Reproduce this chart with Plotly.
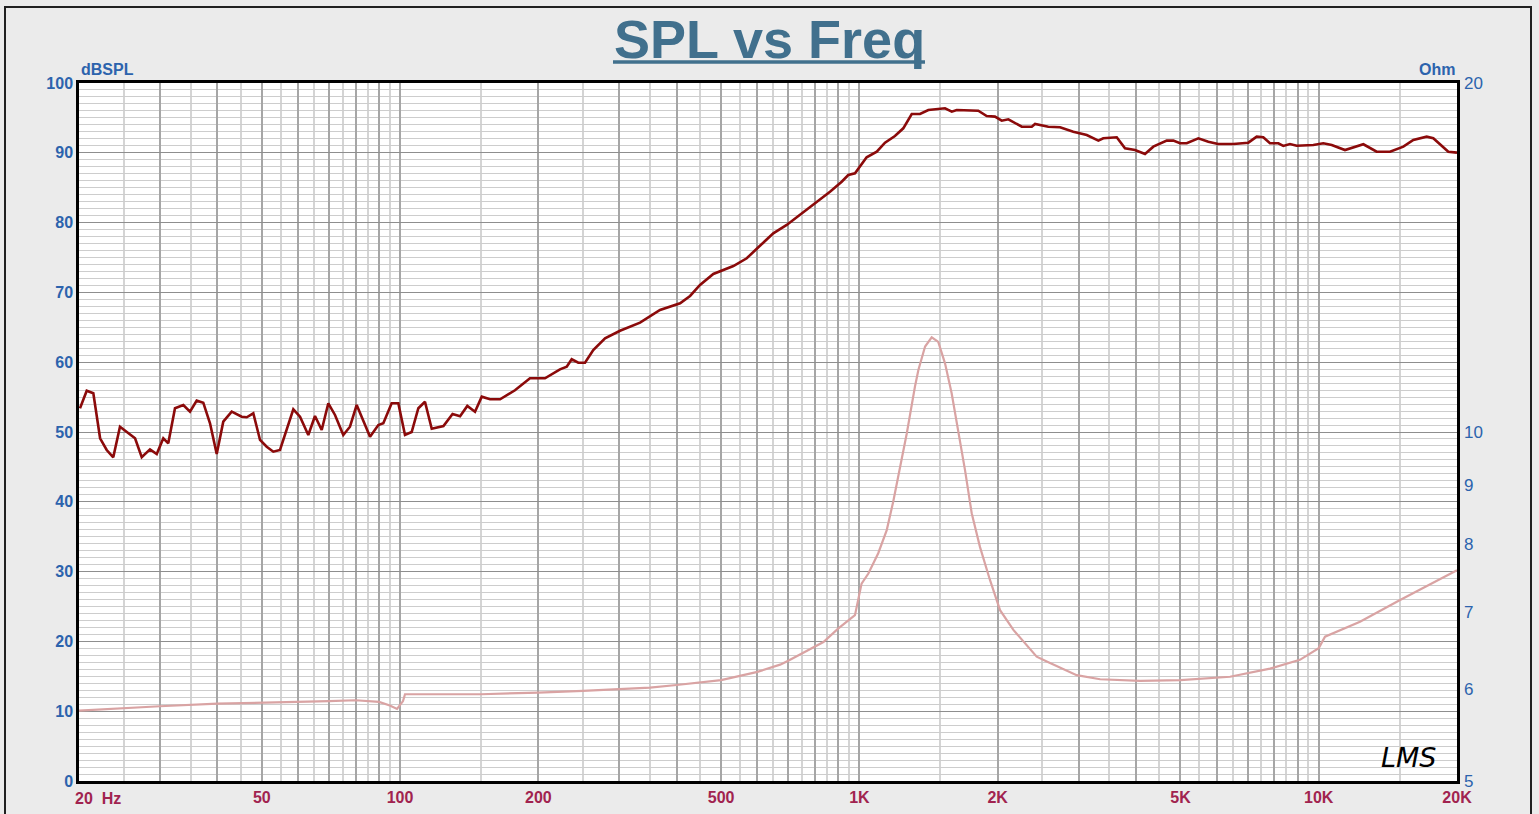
import plotly.graph_objects as go

# ---------------- data ----------------
spl_freq = [20.1, 20.79, 21.49, 22.23, 22.98, 23.75, 24.56, 25.41, 26.49, 27.39, 28.55, 29.53,
            30.52, 31.29, 32.36, 33.74, 34.89, 36.08, 37.29, 38.57, 39.89, 41.22, 43.0, 45.21,
            46.37, 47.92, 49.56, 51.25, 52.97, 54.78, 58.56, 60.56, 63.13, 65.29, 67.52, 69.79,
            72.17, 75.23, 77.8, 80.46, 83.18, 86.02, 89.68, 91.95, 95.88, 99.13, 102.5, 106.0,
            109.6, 113.3, 117.2, 124.3, 130.1, 135.1, 140.1, 145.6, 150.6, 157.0, 165.1, 177.9,
            191.8, 206.8, 222.9, 230.6, 236.4, 244.4, 252.7, 263.4, 279.4, 301.2, 333.0, 368.1,
            407.0, 427.9, 449.8, 480.8, 531.6, 568.5, 602.6, 649.4, 694.6, 742.4, 807.4, 863.0,
            915.1, 945.9, 978.2, 1003, 1037, 1091, 1137, 1195, 1246, 1300, 1355, 1413,
            1536, 1589, 1629, 1815, 1893, 1973, 2041, 2110, 2257, 2373, 2412, 2578,
            2734, 2922, 3126, 3313, 3396, 3633, 3787, 3981, 4186, 4364, 4668, 4825,
            4989, 5160, 5469, 5750, 6037, 6516, 7027, 7328, 7573, 7832, 8166, 8373,
            8659, 8955, 9732, 10232, 10673, 11407, 11995, 12508, 13372, 14296, 15283, 16067,
            17182, 17760, 19147, 20000]
spl_db = [53.40, 55.92, 55.55, 49.10, 47.42, 46.38, 50.76, 50.04, 49.10, 46.38, 47.52, 46.85,
          49.10, 48.38, 53.40, 53.87, 52.91, 54.49, 54.20, 51.25, 46.85, 51.48, 52.91, 52.19,
          52.11, 52.68, 48.86, 47.90, 47.18, 47.42, 53.25, 52.19, 49.57, 52.29, 50.29, 54.11,
          52.44, 49.57, 50.76, 53.87, 51.72, 49.33, 51.00, 51.25, 54.11, 54.11, 49.57, 50.00,
          53.40, 54.34, 50.46, 50.86, 52.58, 52.25, 53.73, 52.91, 55.06, 54.69, 54.69, 55.98,
          57.69, 57.69, 58.98, 59.36, 60.42, 59.93, 59.93, 61.75, 63.43, 64.51, 65.66, 67.48,
          68.44, 69.49, 71.06, 72.64, 73.78, 74.89, 76.46, 78.47, 79.66, 81.09, 83.00, 84.43,
          85.86, 86.82, 87.07, 88.11, 89.36, 90.16, 91.45, 92.41, 93.51, 95.56, 95.56, 96.13,
          96.38, 95.89, 96.13, 96.03, 95.27, 95.18, 94.60, 94.80, 93.74, 93.74, 94.13, 93.74,
          93.66, 93.03, 92.55, 91.74, 92.08, 92.22, 90.65, 90.40, 89.83, 90.88, 91.74, 91.74,
          91.36, 91.36, 92.08, 91.59, 91.26, 91.26, 91.45, 92.31, 92.22, 91.36, 91.36, 90.98,
          91.26, 91.02, 91.12, 91.36, 91.12, 90.40, 90.88, 91.22, 90.16, 90.16, 90.88, 91.84,
          92.31, 92.08, 90.16, 90.02]

imp_freq = [20, 25, 30, 40, 50, 60, 70, 80, 90, 95, 98.5, 101.5, 102.5, 150, 178, 200, 250,
            300, 350, 400, 500, 600, 672, 700, 800, 835, 900, 978, 1011, 1046, 1099, 1147,
            1185, 1226, 1268, 1321, 1344, 1390, 1437, 1485, 1536, 1588, 1642, 1698, 1756,
            1830, 1925, 2024, 2164, 2432, 2558, 2972, 3342, 4082, 5000, 6410, 7832, 9100,
            10000, 10320, 12300, 15000, 20000]
imp_ohm = [5.75, 5.78, 5.80, 5.83, 5.84, 5.85, 5.86, 5.87, 5.85, 5.81, 5.77, 5.86, 5.94, 5.94,
           5.95, 5.96, 5.98, 6.00, 6.02, 6.05, 6.11, 6.21, 6.30, 6.35, 6.53, 6.59, 6.77, 6.95,
           7.40, 7.55, 7.86, 8.23, 8.71, 9.33, 9.97, 10.94, 11.31, 11.85, 12.07, 11.96, 11.46,
           10.80, 10.04, 9.27, 8.51, 7.96, 7.45, 7.02, 6.75, 6.40, 6.34, 6.17, 6.12, 6.10,
           6.11, 6.15, 6.25, 6.36, 6.51, 6.66, 6.86, 7.16, 7.60]

x_major = [20, 30, 40, 50, 60, 70, 80, 90, 100, 200, 300, 400, 500, 600, 700, 800, 900,
           1000, 2000, 3000, 4000, 5000, 6000, 7000, 8000, 9000, 10000, 20000]
x_major_text = ["", "", "", "50", "", "", "", "", "100", "200", "", "", "500", "", "", "", "",
                "1K", "2K", "", "", "5K", "", "", "", "", "10K", "20K"]
x_minor = [25, 35, 45, 55, 65, 75, 85, 95, 150, 250, 350, 450, 550, 650, 750, 850, 950,
           1500, 2500, 3500, 4500, 5500, 6500, 7500, 8500, 9500, 15000]
ohm_ticks = [5, 6, 7, 8, 9, 10, 20]

# ---------------- figure ----------------
W, H = 1539, 814
L, R, T, B = 79, 82, 83, 33
pw, ph = W - L - R, H - T - B


def px(xp):
    return (xp - L) / pw


def py(yp):
    return (H - B - yp) / ph


BLUE = "#2c63ad"
CRIMSON = "#a1234f"
FONT = "Arial, Liberation Sans, sans-serif"

fig = go.Figure()
fig.add_trace(go.Scatter(x=imp_freq, y=imp_ohm, mode="lines", yaxis="y2",
                         line=dict(color="#d9a3a3", width=2.2), showlegend=False))
fig.add_trace(go.Scatter(x=spl_freq, y=spl_db, mode="lines",
                         line=dict(color="#8b0a0a", width=2.6), showlegend=False))

fig.update_layout(
    width=W, height=H,
    margin=dict(l=L, r=R, t=T, b=B, autoexpand=False),
    paper_bgcolor="#ebebeb", plot_bgcolor="white",
    font=dict(family=FONT),
    xaxis=dict(type="log", range=[1.30103, 4.30103], tickmode="array",
               tickvals=x_major, ticktext=x_major_text, ticks="",
               tickfont=dict(color=CRIMSON, size=16, weight="bold"),
               showgrid=True, gridcolor="#a6a6a6", gridwidth=1.5,
               minor=dict(tickmode="array", tickvals=x_minor, showgrid=True,
                          gridcolor="#d4d4d4", gridwidth=1.5, ticks=""),
               showline=True, mirror=True, linecolor="black", linewidth=2.5,
               zeroline=False),
    yaxis=dict(range=[0, 100], tickmode="linear", tick0=0, dtick=10, ticks="",
               tickfont=dict(color=BLUE, size=16, weight="bold"),
               showgrid=True, gridcolor="#8e8e8e", gridwidth=1.2,
               minor=dict(dtick=1, showgrid=True, gridcolor="#cdcdcd", gridwidth=1.3, ticks=""),
               showline=True, mirror=True, linecolor="black", linewidth=2.5,
               zeroline=False),
    yaxis2=dict(type="log", range=[0.69897, 1.30103], overlaying="y", side="right",
                tickmode="array", tickvals=ohm_ticks, ticktext=[str(v) for v in ohm_ticks],
                ticks="", ticklabelstandoff=6, tickfont=dict(color=BLUE, size=17),
                showgrid=False, showline=False, zeroline=False),
)

# title with thick underline
fig.add_annotation(xref="paper", yref="paper", x=px(769), y=py(39), text="<b>SPL vs Freq</b>",
                   showarrow=False, xanchor="center", yanchor="middle",
                   font=dict(size=54, color="#41708d", family=FONT))
fig.add_shape(type="line", xref="paper", yref="paper", x0=px(613), x1=px(925),
              y0=py(62), y1=py(62), line=dict(color="#41708d", width=3.5))

# axis unit labels
fig.add_annotation(xref="paper", yref="paper", x=0, y=py(70), text="<b>dBSPL</b>",
                   showarrow=False, xanchor="left", yanchor="middle",
                   font=dict(size=16, color=BLUE))
fig.add_annotation(xref="paper", yref="paper", x=1, y=py(70), text="<b>Ohm</b>",
                   showarrow=False, xanchor="right", yanchor="middle",
                   font=dict(size=16, color=BLUE))
fig.add_annotation(xref="paper", yref="paper", x=px(73), y=py(798), text="<b>20  Hz</b>",
                   showarrow=False, xanchor="left", yanchor="middle",
                   font=dict(size=16, color=CRIMSON))

# LMS mark
fig.add_annotation(xref="paper", yref="paper", x=px(1408), y=py(757), text="<i>LMS</i>",
                   showarrow=False, xanchor="center", yanchor="middle",
                   font=dict(size=27, color="black", family="DejaVu Sans"))

# outer frame
fig.add_shape(type="rect", xref="paper", yref="paper", x0=px(5), x1=px(1531),
              y0=py(830), y1=py(7), line=dict(color="#202020", width=2), layer="above")

fig.write_html("out.html", config={"displayModeBar": False},
               post_script="document.body.style.margin='0';")
